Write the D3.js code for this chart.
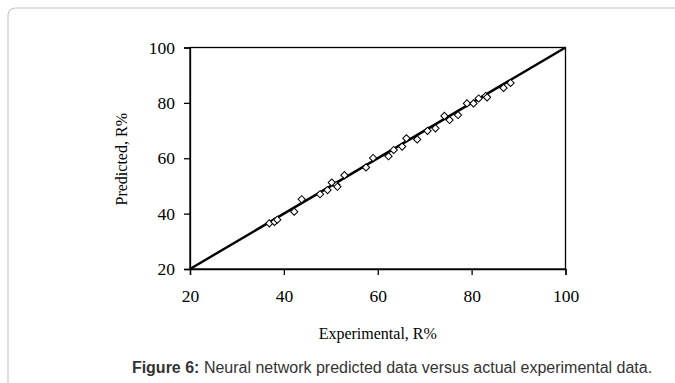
<!DOCTYPE html>
<html><head><meta charset="utf-8">
<script src="https://cdn.jsdelivr.net/npm/d3@7"></script>
<style>body{margin:0;background:#fff;}svg{display:block;}</style>
</head><body>
<script>
const experimental = [36.9,38.0,38.6,42.2,43.8,47.7,49.3,50.2,51.2,51.4,52.9,57.5,59.0,62.3,63.4,65.2,66.1,68.4,70.6,72.3,74.2,75.3,77.1,79.0,80.4,81.5,83.0,83.3,86.8,88.3];
const predicted    = [36.5,37.0,37.8,40.7,45.2,47.0,48.5,51.2,50.3,49.7,53.9,56.7,60.1,60.7,63.0,64.2,67.2,66.8,69.9,70.8,75.3,73.8,75.6,79.8,79.8,81.6,82.5,82.0,85.4,87.2];
const ticks = [20,40,60,80,100];
const fitLine = [[20,20],[100,100]];

const W=675,H=383;
const svg=d3.select("body").append("svg").attr("width",W).attr("height",H);
svg.append("path").attr("d","M8,383 L8,16 Q8,8 16,8 L690,8").attr("fill","none").attr("stroke","#c8c8c8").attr("stroke-width",1.2);

const x=d3.scaleLinear().domain([20,100]).range([190,565.5]);
const y=d3.scaleLinear().domain([20,100]).range([269,47.5]);
const serif="'Liberation Serif','Times New Roman',serif";

// frame
svg.append("rect").attr("x",x(20)).attr("y",y(100)).attr("width",x(100)-x(20)).attr("height",y(20)-y(100))
  .attr("fill","none").attr("stroke","#000").attr("stroke-width",1.3);

const xa=svg.append("g").attr("transform",`translate(0,${y(20)})`)
  .call(d3.axisBottom(x).tickValues(ticks).tickSize(6).tickPadding(15));
const ya=svg.append("g").attr("transform",`translate(${x(20)},0)`)
  .call(d3.axisLeft(y).tickValues(ticks).tickSize(6).tickPadding(9));
[xa,ya].forEach(a=>{
  a.selectAll("path").attr("stroke","#000").attr("stroke-width",1.3);
  a.selectAll("line").attr("stroke","#000").attr("stroke-width",1.3);
  a.selectAll("text").attr("fill","#000").style("font-family",serif).style("font-size","17.5px");
});

// y = x line
svg.append("path").datum(fitLine).attr("d",d3.line().x(d=>x(d[0])).y(d=>y(d[1])))
  .attr("stroke","#000").attr("stroke-width",2.4).attr("fill","none");

// diamonds
const sym=d3.symbol().type(d3.symbolSquare).size(26);
svg.append("g").selectAll("path").data(experimental.map((e,i)=>[e,predicted[i]])).join("path")
  .attr("d",sym).attr("transform",d=>`translate(${x(d[0])},${y(d[1])}) rotate(45)`)
  .attr("fill","#fff").attr("stroke","#000").attr("stroke-width",1);

svg.append("text").attr("x",(x(20)+x(100))/2).attr("y",339).attr("text-anchor","middle")
  .style("font-family",serif).style("font-size","16px").text("Experimental, R%");
svg.append("text").attr("transform",`translate(127,${(y(20)+y(100))/2+1}) rotate(-90)`).attr("text-anchor","middle")
  .style("font-family",serif).style("font-size","16px").text("Predicted, R%");

const cap=svg.append("text").attr("x",392).attr("y",373).attr("text-anchor","middle")
  .style("font-family","'Liberation Sans',Arial,sans-serif").style("font-size","16px").attr("fill","#333");
cap.append("tspan").attr("font-weight","bold").text("Figure 6:");
cap.append("tspan").text(" Neural network predicted data versus actual experimental data.");
</script>
</body></html>
